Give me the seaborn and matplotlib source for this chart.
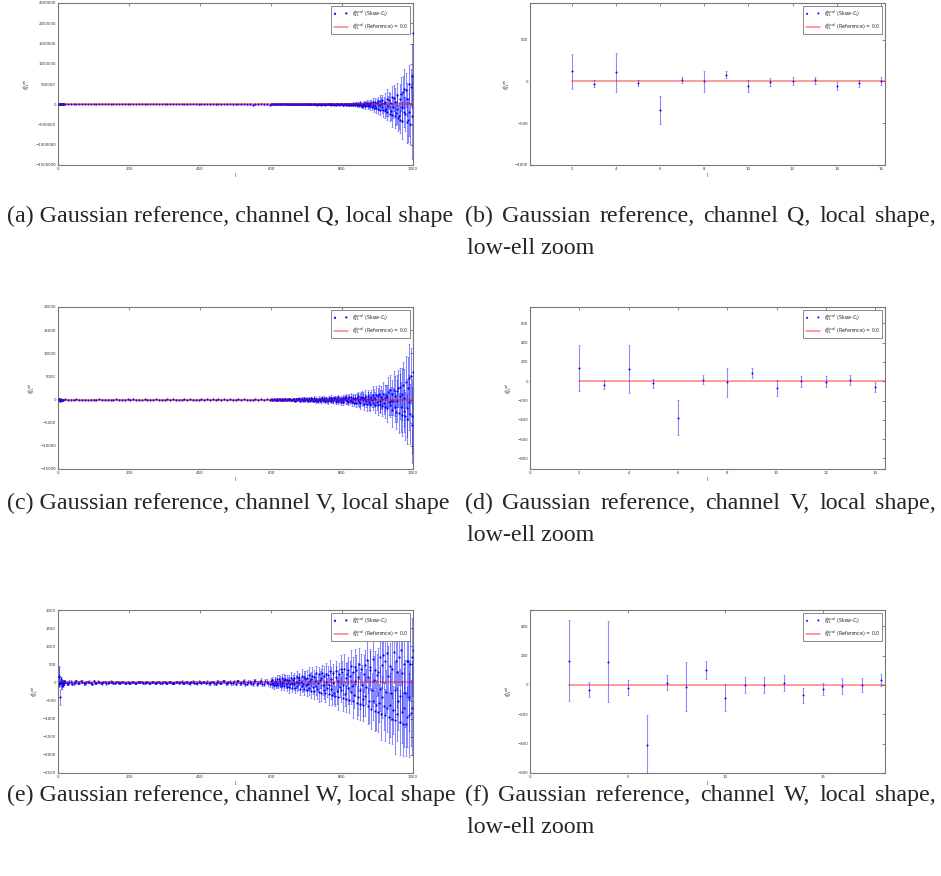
import numpy as np
import pandas as pd
import matplotlib
matplotlib.use("Agg")
import matplotlib.pyplot as plt
import seaborn as sns

# ---------------- data ----------------
# low-ell multipoles
ell_low_q = list(range(2, 17))
q_low_vals = [122, -28, 110, -20, -337, 16, 0, 81, -57, -8, 4, 12, -53, -24, 4]
q_low_errs = [207, 40, 232, 37, 168, 36, 122, 43, 70, 49, 49, 43, 43, 37, 45]

ell_low_v = list(range(2, 15))
v_low_vals = [141, -34, 131, -21, -376, 14, -10, 90, -66, 0, -3, 10, -62]
v_low_errs = [238, 48, 250, 45, 186, 46, 150, 52, 84, 55, 55, 52, 52]

ell_low_w = list(range(2, 19))
w_low_vals = [166, -32, 159, -21, -412, 16, -12, 101, -87, 0, 0, 14, -71, -28, -7, 0, 34]
w_low_errs = [276, 53, 277, 51, 205, 51, 169, 59, 92, 55, 55, 55, 52, 44, 56, 47, 41]

# higher multipoles (sampled): ell = 20..596 step 8 (W also 24..592 step 8),
# then 600..1000 step 2
ell_mid = list(range(20, 600, 8))
ell_mid_b = list(range(24, 600, 8))
ell_top = list(range(600, 1001, 2))

# ---- channel Q (thousands) ----
q_mid_vals_k = [0.2, -0.1, 0.3, -0.4, 0.1, 0.2, -0.3, 0.4, -0.2, 0.1,
                0.5, -0.3, 0.1, 0.6, -0.7, 0.2, -0.4, 0.8, -0.1, 0.3,
                -0.9, 0.4, 1.1, -0.5, 0.2, -1.2, 0.7, -0.3, 1.0, -0.8,
                0.6, -1.4, 1.2, 0.3, -1.7, 0.9, -0.6, 1.9, -1.1, 0.4,
                2.1, -1.5, 0.7, -2.4, 1.6, -0.8, 2.8, -1.9, 0.5, -3.1,
                2.5, -1.2, 3.4, -2.7, 1.1, -3.9, 2.2, -4.3, 3.6, -1.8,
                -5.2, 4.1, -2.3, 6.0, -4.5, 1.7, -6.8, 5.3, -3.0, 7.2,
                -6.1, 3.5, -8.0]
q_mid_errs_k = [0.4, 0.3, 0.4, 0.5, 0.4, 0.5, 0.6, 0.5, 0.6, 0.5,
                0.7, 0.6, 0.8, 0.7, 0.9, 0.8, 1.0, 0.9, 1.1, 1.0,
                1.2, 1.1, 1.3, 1.4, 1.2, 1.5, 1.6, 1.4, 1.7, 1.8,
                1.9, 2.1, 2.0, 2.3, 2.4, 2.2, 2.6, 2.8, 2.7, 3.0,
                3.2, 3.5, 3.3, 3.8, 4.0, 3.7, 4.3, 4.6, 4.4, 5.0,
                5.4, 5.8, 5.5, 6.3, 6.8, 6.4, 7.2, 7.8, 7.5, 8.3,
                8.8, 9.5, 9.0, 10.2, 10.8, 10.1, 11.6, 12.3, 11.8, 13.0,
                13.8, 14.5, 13.9]
q_top_vals_k = [1, -2, 3, -1, 0, 2, -3, 1, -2, 2,
                -2, 3, 0, -3, 1, 2, -1, -3, 3, 0,
                2, -1, -3, 1, 3, -2, 0, 4, -3, 1,
                -3, 4, 1, -2, -4, 2, 3, -1, 0, -4,
                3, -4, 1, 5, -2, -3, 4, 0, -5, 2,
                -4, 2, 5, -1, -6, 3, 1, -5, 6, -2,
                5, -6, 0, 4, -3, -7, 6, 2, -5, 1,
                -7, 3, 8, -2, -5, 6, -8, 1, 4, -3,
                9, -5, -1, 7, -9, 3, -4, 10, -2, -8,
                -6, 11, -10, 2, 8, -4, -12, 5, 9, -1,
                12, -8, -14, 4, 10, -3, -15, 13, -6, 2,
                -16, 5, 15, -11, -2, 18, -20, 8, 12, -7,
                20, -26, -4, 14, -30, 9, 24, -18, -33, 6,
                -36, 12, 28, -42, -8, 30, -48, 16, -25, 35,
                -55, 20, -70, 45, -10, -85, 60, -40, -95, 25,
                70, -110, -30, 90, -135, 15, -80, 110, -150, 40,
                -170, 60, -120, 140, -200, -40, 100, -230, 30, -160,
                180, -260, -80, 150, -300, 60, -210, 240, -120, -330,
                -280, 120, -380, 250, -60, -410, 300, -190, 380, -250,
                350, -450, 120, -380, 500, -200, -480, 420, 700, -300,
                1750]
q_top_errs_k = [3, 3, 2, 4, 3, 3, 4, 3, 2, 4,
                3, 4, 3, 4, 3, 5, 4, 3, 4, 4,
                4, 5, 4, 5, 4, 5, 5, 4, 6, 5,
                5, 6, 5, 6, 5, 7, 6, 5, 7, 6,
                6, 7, 6, 8, 6, 8, 7, 6, 9, 7,
                7, 8, 7, 9, 8, 9, 8, 7, 10, 8,
                8, 9, 8, 10, 9, 11, 9, 8, 12, 10,
                10, 11, 9, 12, 10, 13, 11, 10, 14, 12,
                12, 13, 11, 14, 12, 16, 13, 12, 17, 14,
                14, 16, 13, 17, 15, 19, 16, 14, 20, 17,
                17, 19, 16, 21, 18, 23, 19, 17, 25, 21,
                22, 25, 21, 27, 23, 29, 25, 22, 31, 27,
                38, 44, 36, 48, 41, 52, 44, 40, 56, 48,
                52, 60, 50, 66, 57, 71, 60, 55, 76, 65,
                78, 90, 75, 99, 85, 106, 90, 82, 114, 97,
                118, 136, 112, 148, 128, 158, 136, 124, 170, 146,
                180, 206, 172, 226, 196, 242, 208, 190, 260, 224,
                260, 298, 248, 326, 282, 348, 300, 274, 374, 322,
                340, 390, 325, 428, 370, 456, 394, 360, 490, 420,
                430, 495, 410, 540, 470, 580, 500, 455, 800, 1050,
                550]

# ---- channel V ----
v_mid_vals = [40, -25, 15, -10, 20, -18, 8, 12, -22, 5,
              10, -15, 20, -8, 5, -20, 14, -6, 18, -12,
              9, -21, 16, -4, 24, -13, 7, -26, 19, -3,
              -28, 14, 25, -17, 6, -31, 22, -9, 33, -20,
              12, -38, 29, -14, 41, -25, 8, -45, 34, -16,
              48, -30, 19, -55, 37, -11, 60, -42, 25, -8,
              -62, 45, -20, 70, -50, 15, -75, 55, -30, 80,
              -65, 35, -90]
v_mid_errs = [55, 42, 38, 36, 34, 35, 33, 34, 32, 35,
              33, 36, 34, 32, 35, 37, 34, 36, 33, 38,
              37, 39, 36, 40, 42, 39, 43, 41, 45, 44,
              46, 48, 45, 50, 52, 49, 53, 55, 51, 57,
              58, 56, 61, 63, 60, 66, 64, 69, 71, 68,
              73, 76, 72, 79, 82, 78, 85, 88, 84, 92,
              95, 91, 99, 103, 98, 107, 111, 105, 115, 119,
              114, 123, 127]
v_top_vals = [45, -60, 90, -120, 20, 75, -30, -95, 130, 10,
              -70, 140, -25, 60, -150, 95, -110, 15, 80, -40,
              120, -20, -160, 55, 85, -130, 30, 170, -75, -5,
              -180, 65, 110, -45, -210, 20, 150, -95, 40, 195,
              30, -230, 85, 170, -60, -140, 250, -15, -190, 100,
              210, -40, -260, 120, 35, -175, -90, 270, 60, -220,
              -120, 300, 15, -250, 160, -55, -320, 95, 230, -30,
              70, -290, 340, -110, -20, 250, -370, 140, 45, -200,
              -380, 120, 260, -60, -310, 400, 30, -180, -90, 330,
              290, -420, -50, 180, 450, -240, -130, 70, -480, 210,
              -160, 380, -520, 60, 270, -90, 540, -350, 130, -440,
              500, -210, -70, 620, -560, 150, 320, -680, 40, 410,
              -640, 260, 750, -180, -420, 90, -800, 520, 310, -120,
              380, -870, 120, 650, -300, -940, 210, 830, -520, 60,
              -1000, 450, -160, 1050, -720, 290, -1200, 130, 880, -510,
              680, -1250, 1300, -300, -880, 520, -1450, 140, 1200, -760,
              -1600, 350, 960, -1850, 640, 1700, -520, -1150, 2000, -280,
              1100, -2300, -400, 2100, -1500, 780, -2600, 1900, -300, 2450,
              -2900, 700, 2800, -1600, -3300, 1200, 3100, -2400, 400, -3600,
              3900, -1800, -4200, 2400, -600, 4600, -3100, 5200, -3500, -5500,
              6000]
v_top_errs = [125, 140, 118, 150, 132, 128, 145, 160, 122, 138,
              150, 135, 165, 148, 172, 140, 158, 180, 152, 168,
              175, 160, 190, 170, 200, 182, 165, 210, 188, 195,
              205, 225, 190, 240, 215, 230, 250, 210, 235, 260,
              240, 270, 225, 285, 255, 300, 265, 245, 310, 280,
              290, 320, 275, 340, 300, 355, 310, 330, 370, 315,
              340, 375, 320, 400, 355, 420, 380, 350, 440, 395,
              400, 440, 380, 470, 420, 500, 445, 410, 530, 460,
              470, 520, 450, 560, 490, 590, 520, 480, 620, 540,
              550, 610, 520, 650, 580, 690, 600, 560, 720, 640,
              640, 710, 600, 760, 670, 800, 700, 650, 840, 740,
              740, 820, 700, 880, 780, 930, 810, 760, 980, 860,
              1050, 1200, 980, 1300, 1120, 1380, 1180, 1080, 1450, 1250,
              1250, 1420, 1180, 1520, 1330, 1600, 1400, 1280, 1700, 1480,
              1500, 1720, 1420, 1850, 1610, 1950, 1700, 1550, 2080, 1800,
              1850, 2100, 1750, 2300, 2000, 2450, 2150, 1950, 2600, 2250,
              2400, 2750, 2250, 3000, 2600, 3200, 2800, 2550, 3400, 2950,
              3200, 3650, 3000, 4000, 3450, 4300, 3750, 3400, 4600, 3950,
              4300, 4900, 4050, 5300, 4600, 5700, 4950, 4500, 6100, 5200,
              5600, 6300, 5300, 6900, 6000, 7400, 6400, 5900, 8000, 8300,
              11500]

# ---- channel W ----
w_mid_vals = [25, -30, 15, -20, 35, -10, 20, -25, 10, -15,
              30, -15, 5, -28, 18, -8, 22, -12, 15, -20,
              8, -18, 14, -6, 20, -14, 4, 12, -16, 9,
              -10, 16, -5, 18, -12, 7, -20, 13, -4, 15,
              -14, 22, -9, 5, -25, 18, -6, 20, -17, 10,
              25, -20, 12, -30, 18, -8, 32, -24, 15, -12,
              -35, 28, -15, 40, -30, 10, -45, 35, -20, 48,
              -40, 25, -55]
w_mid_errs = [48, 42, 45, 40, 38, 41, 37, 39, 36, 38,
              35, 37, 34, 36, 33, 35, 32, 34, 31, 33,
              30, 32, 29, 31, 28, 30, 29, 31, 28, 30,
              29, 31, 30, 28, 30, 32, 29, 31, 30, 33,
              31, 33, 32, 35, 33, 36, 34, 37, 35, 38,
              37, 40, 38, 42, 40, 44, 42, 46, 44, 48,
              47, 51, 49, 54, 52, 57, 55, 60, 58, 64,
              62, 67, 65]
w_mid_b_vals = [-15, 22, -35, 12, -8, 28, -20, 5, 18, -30,
                -10, 24, -18, 12, -25, 6, 16, -22, 10, -5,
                20, -10, -4, 16, -20, 8, 12, -18, 6, -12,
                14, -8, 20, -16, 4, -10, 18, -6, -14, 10,
                6, -18, 20, -12, 16, -4, -22, 12, 8, -16,
                -20, 14, -26, 22, -10, 30, -18, 8, -28, 20,
                32, -26, 10, -38, 24, -14, 42, -30, 6, -45,
                36, -20]
w_mid_b_errs = [46, 44, 40, 42, 39, 37, 40, 38, 36, 37,
                36, 35, 34, 36, 33, 34, 32, 33, 31, 32,
                31, 30, 30, 29, 29, 28, 30, 29, 29, 28,
                30, 29, 31, 29, 30, 31, 30, 30, 31, 32,
                32, 32, 33, 34, 34, 35, 35, 36, 36, 37,
                38, 39, 39, 41, 41, 43, 43, 45, 45, 47,
                48, 50, 50, 53, 53, 56, 56, 59, 59, 62,
                64, 66]
w_top_vals = [30, -55, 70, -10, -80, 45, 15, -65, 90, -25,
              -60, 85, -20, 40, -95, 110, -35, 5, 75, -100,
              95, -30, -115, 60, 20, -125, 80, -50, 135, -10,
              -140, 55, 120, -35, -150, 25, 160, -90, -20, 110,
              70, -170, 15, 185, -105, -40, 150, -190, 90, -60,
              -200, 130, -45, 210, -160, 30, -225, 95, 175, -120,
              160, -240, 50, -100, 250, -190, -15, 230, -265, 80,
              -280, 110, 270, -60, -210, 165, -300, 25, 240, -150,
              200, -330, -80, 310, -180, 90, -350, 260, -20, -290,
              -370, 140, 320, -240, 30, -390, 220, -120, 360, -200,
              290, -420, -60, 380, -310, 120, -450, 240, -160, 330,
              -480, 180, -260, 460, -90, -510, 300, -350, 420, 40,
              350, -560, 150, -400, 520, -220, -590, 380, -60, -470,
              -630, 240, 480, -380, -120, 610, -660, 160, -500, 330,
              420, -720, -200, 640, -500, 80, -780, 350, -620, 200,
              -820, 300, -560, 700, -180, -860, 480, -400, 760, -650,
              600, -900, -250, 820, -700, 180, -960, 450, -620, -300,
              -1000, 380, -750, 850, -200, -1050, 600, -880, 300, -500,
              700, -1100, -380, 900, -820, 250, -1150, 520, -700, -300,
              -1150, 600, -950, 600, -400, -900, 500, -850, 700, -700,
              900]
w_top_errs = [90, 104, 85, 112, 98, 118, 101, 93, 126, 106,
              104, 120, 98, 129, 113, 136, 117, 107, 145, 122,
              119, 137, 112, 148, 129, 156, 134, 123, 166, 140,
              135, 156, 128, 168, 147, 177, 152, 140, 189, 159,
              153, 177, 145, 191, 167, 201, 173, 159, 214, 181,
              173, 200, 164, 216, 189, 228, 196, 180, 243, 205,
              195, 226, 185, 244, 213, 257, 221, 203, 274, 231,
              220, 255, 209, 275, 240, 290, 249, 229, 309, 261,
              248, 287, 235, 310, 271, 327, 281, 258, 348, 294,
              279, 323, 265, 349, 305, 368, 316, 291, 392, 331,
              314, 364, 298, 393, 343, 414, 356, 327, 441, 373,
              352, 408, 334, 441, 385, 465, 399, 367, 495, 418,
              395, 457, 375, 494, 431, 521, 447, 411, 555, 469,
              442, 512, 420, 554, 483, 584, 501, 461, 622, 525,
              495, 573, 470, 620, 541, 654, 561, 516, 697, 588,
              555, 642, 527, 694, 606, 732, 628, 578, 780, 659,
              621, 719, 590, 777, 679, 820, 704, 647, 874, 738,
              696, 806, 661, 871, 760, 918, 788, 725, 979, 826,
              780, 903, 740, 975, 852, 1028, 883, 812, 1096, 925,
              873, 1011, 829, 1092, 954, 1151, 989, 909, 1070, 1300,
              800]

ref_value = 0.0
ref_ell = [2, 1000]

captions = [
    "(a) Gaussian reference, channel Q, local shape",
    "(b) Gaussian reference, channel Q, local shape,",
    "(c) Gaussian reference, channel V, local shape",
    "(d) Gaussian reference, channel V, local shape,",
    "(e) Gaussian reference, channel W, local shape",
    "(f) Gaussian reference, channel W, local shape,",
]
caption_tail = "low-ell zoom"
label_skew = r"$f_{NL}^{Local}$ (Skew-$C_l$)"
label_ref = r"$f_{NL}^{Local}$ (Reference) = 0.0"

# ---------------- assemble ----------------
def channel(segments, scale=1.0):
    ell, vals, errs = [], [], []
    for k, (el, vv, ee, sc) in enumerate(segments):
        n = min(len(el), len(vv), len(ee))
        ell += list(el[:n])
        vals += [v * sc for v in vv[:n]]
        errs += [e * sc for e in ee[:n]]
    df = pd.DataFrame({"ell": ell, "fnl": vals, "err": errs})
    return df.sort_values("ell").reset_index(drop=True)

df_q = channel([(ell_low_q, q_low_vals, q_low_errs, 1.0),
                (ell_mid, q_mid_vals_k, q_mid_errs_k, 1000.0),
                (ell_top, q_top_vals_k, q_top_errs_k, 1000.0)])
df_v = channel([(ell_low_v, v_low_vals, v_low_errs, 1.0),
                (ell_mid, v_mid_vals, v_mid_errs, 1.0),
                (ell_top, v_top_vals, v_top_errs, 1.0)])
df_w = channel([(ell_low_w, w_low_vals, w_low_errs, 1.0),
                (ell_mid, w_mid_vals, w_mid_errs, 1.0),
                (ell_mid_b, w_mid_b_vals, w_mid_b_errs, 1.0),
                (ell_top, w_top_vals, w_top_errs, 1.0)])

sns.set_theme(style="white")
plt.rcParams["font.family"] = ["DejaVu Sans"]
plt.rcParams["mathtext.fontset"] = "dejavusans"

W, H = 941, 876
fig = plt.figure(figsize=(W / 100, H / 100), dpi=100)

def axes_px(l, t, r, b):
    return fig.add_axes([l / W, 1 - b / H, (r - l) / W, (b - t) / H])

tick_fs = 2.8
lab_fs = 3.4

def panel(ax, df, xlim, ylim, xticks, yticks, wide):
    ax.errorbar(df["ell"], df["fnl"], yerr=df["err"], fmt="none",
                ecolor=(0.0, 0.0, 1.0, 0.45), elinewidth=0.75 if wide else 0.8,
                capsize=1.0, capthick=0.5, zorder=2)
    sns.scatterplot(data=df, x="ell", y="fnl", ax=ax, color="blue",
                    s=2.5 if wide else 2.0, linewidth=0, zorder=3, label=label_skew)
    sns.lineplot(x=ref_ell, y=[ref_value, ref_value], ax=ax, color="red",
                 alpha=0.5, linewidth=1.1, zorder=4, label=label_ref)
    ax.set_xlim(*xlim)
    ax.set_ylim(*ylim)
    ax.set_xticks(xticks)
    ax.set_yticks(yticks)
    ax.tick_params(direction="in", top=True, right=True, length=2.0,
                   width=0.4, labelsize=tick_fs, pad=1.5, colors="#333333")
    ax.ticklabel_format(style="plain", axis="y", useOffset=False)
    for s in ax.spines.values():
        s.set_color("#777777")
        s.set_linewidth(0.8)
    ax.set_xlabel("l", fontsize=lab_fs, labelpad=1.5, color="#333333")
    ax.set_ylabel(r"$f_{NL}^{local}$", fontsize=lab_fs, labelpad=2, color="#333333")
    h, lab = ax.get_legend_handles_labels()
    order = [lab.index(label_skew), lab.index(label_ref)]
    leg = ax.legend([h[i] for i in order], [lab[i] for i in order],
                    loc="upper right", fontsize=lab_fs, scatterpoints=2,
                    fancybox=False, framealpha=1, edgecolor="#777777",
                    borderpad=0.45, labelspacing=0.55, handlelength=3.0,
                    handletextpad=0.8, borderaxespad=0.6)
    leg.get_frame().set_linewidth(0.6)
    leg.set_zorder(10)

rows = [(3, 165), (307, 469), (610, 773)]
L1, R1, L2, R2 = 58, 413, 530, 885

axa = axes_px(L1, rows[0][0], R1, rows[0][1])
panel(axa, df_q, (0, 1000), (-1500000, 2500000), range(0, 1001, 200),
      range(-1500000, 2500001, 500000), True)
axb = axes_px(L2, rows[0][0], R2, rows[0][1])
panel(axb, df_q, (0.08, 16.2), (-1000, 940), range(2, 17, 2),
      range(-1000, 501, 500), False)

axc = axes_px(L1, rows[1][0], R1, rows[1][1])
panel(axc, df_v, (0, 1000), (-15000, 20000), range(0, 1001, 200),
      range(-15000, 20001, 5000), True)
axd = axes_px(L2, rows[1][0], R2, rows[1][1])
panel(axd, df_v, (0, 14.4), (-910, 770), range(0, 15, 2),
      range(-800, 601, 200), False)

axe = axes_px(L1, rows[2][0], R1, rows[2][1])
panel(axe, df_w, (0, 1000), (-2500, 2000), range(0, 1001, 200),
      range(-2500, 2001, 500), True)
axf = axes_px(L2, rows[2][0], R2, rows[2][1])
panel(axf, df_w, (0, 18.2), (-600, 510), range(0, 16, 5),
      range(-600, 401, 200), False)

# ---------------- captions ----------------
cap_fs = 17.3
cap_family = ["Liberation Serif", "DejaVu Serif"]
renderer = fig.canvas.get_renderer()

def justified(text, x0, x1, ybase):
    words = text.split(" ")
    ts = [fig.text(0, 1 - ybase / H, w, fontsize=cap_fs, family=cap_family,
                   va="baseline", ha="left") for w in words]
    widths = [t.get_window_extent(renderer).width for t in ts]
    gap = (x1 - x0 - sum(widths)) / (len(words) - 1)
    x = x0
    for t, w in zip(ts, widths):
        t.set_x(x / W)
        x += w + gap

cap_rows = [222, 509, 801]
for i, yb in enumerate(cap_rows):
    fig.text(7 / W, 1 - yb / H, captions[2 * i], fontsize=cap_fs,
             family=cap_family, va="baseline", ha="left")
    justified(captions[2 * i + 1], 465, 936, yb)
    fig.text(467 / W, 1 - (yb + 32) / H, caption_tail, fontsize=cap_fs,
             family=cap_family, va="baseline", ha="left")

fig.savefig("out.png", dpi=100)
